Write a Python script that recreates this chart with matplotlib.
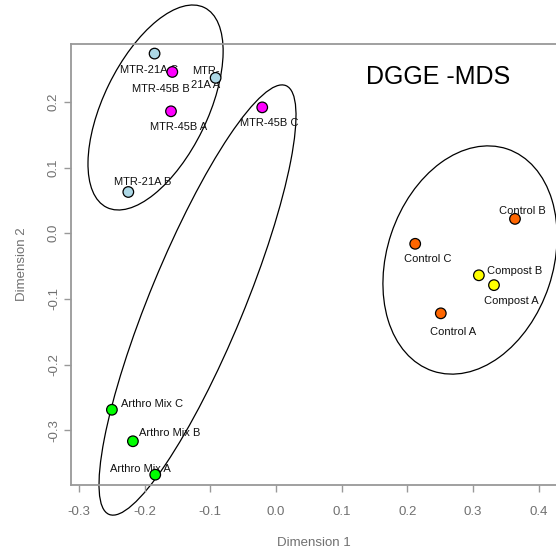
import matplotlib
matplotlib.use("Agg")
import matplotlib.pyplot as plt
from matplotlib.patches import Ellipse

plt.rcParams['font.family'] = ['Liberation Sans', 'DejaVu Sans']

# MDS coordinates of the DGGE profiles
samples = ['MTR-21A C', 'MTR-45B B', 'MTR-\n21A A', 'MTR-45B A', 'MTR-45B C',
           'MTR-21A B', 'Arthro Mix C', 'Arthro Mix B', 'Arthro Mix A',
           'Control B', 'Control C', 'Compost B', 'Compost A', 'Control A']
dim1 = [-0.185, -0.158, -0.092, -0.160, -0.021, -0.225, -0.250, -0.218, -0.184,
        0.364, 0.212, 0.309, 0.332, 0.251]
dim2 = [0.274, 0.246, 0.237, 0.186, 0.192, 0.063, -0.269, -0.317, -0.368,
        0.022, -0.016, -0.064, -0.079, -0.122]
groups = ['MTR-21A', 'MTR-45B', 'MTR-21A', 'MTR-45B', 'MTR-45B', 'MTR-21A',
          'Arthro', 'Arthro', 'Arthro', 'Control', 'Control', 'Compost',
          'Compost', 'Control']
group_colors = {'MTR-21A': '#add8e6', 'MTR-45B': '#ff00ff', 'Arthro': '#00ff00',
                'Control': '#ff6600', 'Compost': '#ffff00'}

# label placement: offset in pixels from the point, and horizontal alignment
label_dx = [-6, -11, -10, 8, 7, 14, 9, 6, -15, 7, 13, 8, 17, 12]
label_dy = [16, 17, 0, 16, 16, -10, -6, -8, -6, -8, 15, -4, 16, 19]
label_ha = ['center', 'center', 'center', 'center', 'center', 'center', 'left',
            'left', 'center', 'center', 'center', 'left', 'center', 'center']

# cluster outlines: centre, full width, full height, angle (deg)
ell_center = [(-0.1835, 0.1918), (-0.1196, -0.1017), (0.2955, -0.0407)]
ell_width = [0.339, 0.707, 0.357]
ell_height = [0.1585, 0.143, 0.253]
ell_angle = [64, 67.6, 71.5]

xticks = [-0.3, -0.2, -0.1, 0.0, 0.1, 0.2, 0.3, 0.4]
yticks = [-0.3, -0.2, -0.1, 0.0, 0.1, 0.2]

fig = plt.figure(figsize=(5.56, 5.50), dpi=100)
ax = fig.add_axes([71 / 556, 65 / 550, 486 / 556, 441 / 550])
ax.set_xlim(-0.3123, 0.428)
ax.set_ylim(-0.3837, 0.2886)

grey = '#999999'
for side in ['left', 'bottom', 'top']:
    ax.spines[side].set_color(grey)
    ax.spines[side].set_linewidth(1.3)
ax.spines['right'].set_visible(False)

ax.set_xticks(xticks)
ax.set_xticklabels([f'{v:.1f}' for v in xticks])
ax.set_yticks(yticks)
ax.set_yticklabels([f'{v:.1f}' for v in yticks], rotation=90, va='center')
ax.tick_params(axis='both', colors=grey, labelcolor='#707070', labelsize=9.5,
               length=5, width=1)
ax.tick_params(axis='x', pad=10)
ax.tick_params(axis='y', pad=3)

ax.set_xlabel('Dimension 1', fontsize=9.5, color='#707070')
ax.set_ylabel('Dimension 2', fontsize=9.5, color='#707070')
ax.xaxis.set_label_coords(0.5, -0.118)
ax.yaxis.set_label_coords(-0.0895, 0.5)

for c, w, h, a in zip(ell_center, ell_width, ell_height, ell_angle):
    ax.add_patch(Ellipse(c, w, h, angle=a, fill=False, edgecolor='black',
                         linewidth=0.9, clip_on=False, zorder=1))

for name, x, y, dx, dy, ha in zip(samples, dim1, dim2, label_dx, label_dy, label_ha):
    ax.annotate(name, (x, y), xytext=(dx, -dy), textcoords='offset pixels',
                ha=ha, va='center', fontsize=8, linespacing=1.45,
                color='#111111', zorder=2)

ax.scatter(dim1, dim2, s=58, c=[group_colors[g] for g in groups],
           edgecolors='black', linewidths=0.9, zorder=3, clip_on=False)

ax.text(0.755, 0.925, 'DGGE -MDS', transform=ax.transAxes, fontsize=18,
        ha='center', va='center', color='black')

fig.savefig('out.png', dpi=100)
